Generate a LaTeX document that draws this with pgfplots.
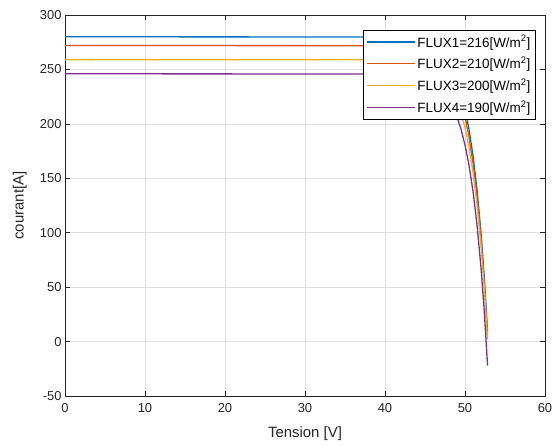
\documentclass[border=0pt]{standalone}
\usepackage{pgfplots}
\pgfplotsset{compat=1.18}
\usepackage{fontspec}
\setmainfont{Liberation Sans}
\definecolor{mblue}{rgb}{0,0.447,0.741}
\definecolor{morange}{rgb}{0.85,0.325,0.098}
\definecolor{myellow}{rgb}{0.929,0.694,0.125}
\definecolor{mpurple}{rgb}{0.494,0.184,0.556}
\definecolor{axgray}{rgb}{0.15,0.15,0.15}
\begin{document}
\begin{tikzpicture}
\path[use as bounding box] (-65bp,-50bp) rectangle (495bp,396bp);
\begin{axis}[
  at={(0,0)}, anchor=south west,
  scale only axis, width=480bp, height=381bp,
  xmin=0, xmax=60, ymin=-50, ymax=300,
  xtick={0,10,...,60}, ytick={-50,0,...,300},
  /pgf/number format/assume math mode=true,
  tick align=inside, major tick length=5bp,
  axis line style={axgray, line width=0.6bp},
  tick style={axgray, line width=0.6bp},
  grid=major, grid style={gray!25, line width=0.5bp},
  ticklabel style={font=\fontsize{13}{15}\selectfont, text=axgray},
  xticklabel style={yshift=-4bp},
  label style={font=\fontsize{15}{17}\selectfont, text=axgray},
  xlabel={Tension [V]}, ylabel={courant[A]},
  xlabel style={at={(axis description cs:0.5,-0.098)}, anchor=center},
  ylabel style={at={(axis description cs:-0.094,0.5)}, anchor=center},
  legend cell align=left,
  legend style={at={(rel axis cs:0.9806,0.9606)}, anchor=north east,
    font=\fontsize{13.5}{15}\selectfont,
    nodes={font=\fontsize{13.5}{15}\selectfont, text=black},
    draw=black, line width=0.6bp,
    row sep=4.5bp, inner xsep=3bp, inner ysep=3bp},
  legend image code/.code={\draw[#1, line width=1.3bp] (0cm,0cm) -- (1.68cm,0cm);},
  every axis plot/.append style={line width=1.3bp},
]
\addplot[mblue] coordinates {(0,280) (38,279.8) (42,278.8) (44,276.7) (46,271.1) (47,265.2) (48,255.7) (49,239.9) (49.5,228.5) (50,213.9) (50.5,195.0) (51,170.9) (51.5,139.9) (52,100.1) (52.4,60.3) (52.82,9)};
\addlegendentry{FLUX1=216[W/m\textsuperscript{2}]}
\addplot[morange] coordinates {(0,272) (38,271.8) (42,270.8) (44,268.7) (46,263.2) (47,257.4) (48,247.9) (49,232.3) (49.5,221.1) (50,206.6) (50.5,188.0) (51,164.1) (51.5,133.4) (52,94.1) (52.4,54.8) (52.82,4)};
\addlegendentry{FLUX2=210[W/m\textsuperscript{2}]}
\addplot[myellow] coordinates {(0,259) (38,258.8) (42,257.9) (44,255.9) (46,250.5) (47,245.0) (48,235.9) (49,221.0) (49.5,210.2) (50,196.3) (50.5,178.4) (51,155.6) (51.5,126.1) (52,88.4) (52.4,50.7) (52.82,2)};
\addlegendentry{FLUX3=200[W/m\textsuperscript{2}]}
\addplot[mpurple] coordinates {(0,246) (38,245.8) (42,244.8) (44,242.7) (46,237.2) (47,231.4) (48,221.9) (49,206.3) (49.5,195.1) (50,180.6) (50.5,162.0) (51,138.1) (51.5,107.4) (52,68.1) (52.4,28.8) (52.82,-22)};
\addlegendentry{FLUX4=190[W/m\textsuperscript{2}]}
\end{axis}
\end{tikzpicture}
\end{document}
